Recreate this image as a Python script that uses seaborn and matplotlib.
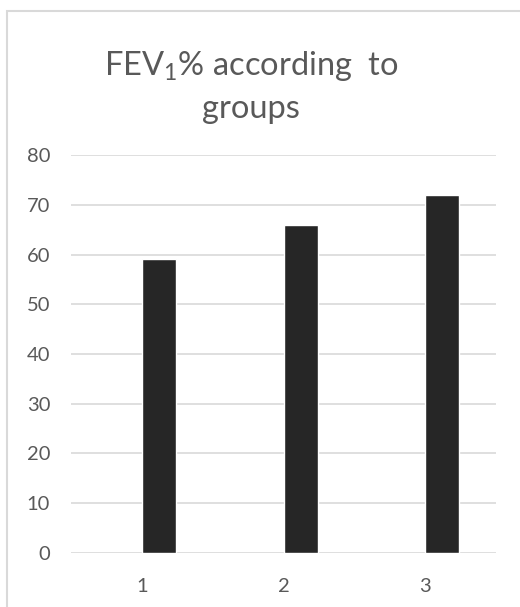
import matplotlib
matplotlib.use("Agg")
import matplotlib.pyplot as plt
import seaborn as sns
import pandas as pd
import numpy as np
from matplotlib.patches import Rectangle

# Chart data
groups = ["1", "2", "3"]
series_names = ["Series1", "FEV1%"]
series1_values = [np.nan, np.nan, np.nan]
fev1_values = [59, 66, 72]
y_ticks = [0, 10, 20, 30, 40, 50, 60, 70, 80]

df = pd.DataFrame({
    "group": groups * 2,
    "series": [series_names[0]] * 3 + [series_names[1]] * 3,
    "value": series1_values + fev1_values,
})

sns.set_theme(style="white")
plt.rcParams["font.family"] = ["Lato", "DejaVu Sans"]
plt.rcParams["mathtext.fontset"] = "custom"
plt.rcParams["mathtext.rm"] = "Lato"
plt.rcParams["mathtext.it"] = "Lato"

text_color = "#595959"
grid_color = "#d9d9d9"

fig = plt.figure(figsize=(5.2, 6.07), dpi=100)
ax = fig.add_axes([0.1365, 0.089, 0.8175, 0.6556])

sns.barplot(
    data=df, x="group", y="value", hue="series", order=groups,
    hue_order=series_names, palette=["#262626", "#262626"],
    width=0.48, ax=ax, legend=False, saturation=1,
)

ax.set_xlim(-0.5, 2.5)
ax.set_ylim(0, 80)
ax.set_yticks(y_ticks)
ax.yaxis.grid(True, color=grid_color, linewidth=1.2)
ax.set_axisbelow(True)
for s in ax.spines.values():
    s.set_visible(False)
ax.set_xlabel("")
ax.set_ylabel("")
ax.tick_params(axis="both", length=0, labelsize=14.5, colors=text_color)
ax.tick_params(axis="y", pad=15)
ax.tick_params(axis="x", pad=18)

# chart title
fig.text(0.483, 0.876, "FEV$_1$% according  to", ha="center", va="baseline",
         fontsize=23.5, color=text_color)
fig.text(0.483, 0.806, "groups", ha="center", va="baseline",
         fontsize=23.5, color=text_color)

# chart-area frame
fig.patches.append(Rectangle((7 / 520, -0.1), 1.2, 1 - 11 / 607 + 0.1,
                             transform=fig.transFigure, fill=False,
                             edgecolor=grid_color, linewidth=1.5))

fig.savefig("out.png", dpi=100)
